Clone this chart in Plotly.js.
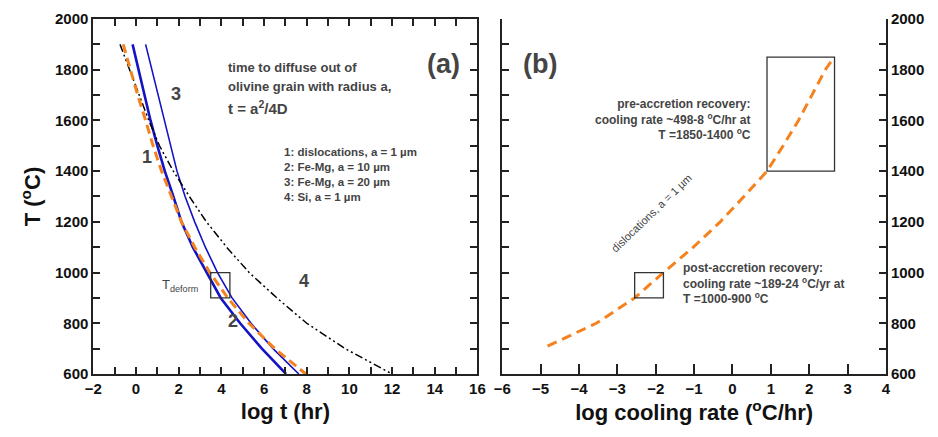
<!DOCTYPE html>
<html>
<head>
<meta charset="utf-8">
<script src="https://cdn.plot.ly/plotly-3.0.1.min.js"></script>
<style>html,body{margin:0;padding:0;background:#fff;}#chart{width:938px;height:437px;}</style>
</head>
<body>
<div id="chart"></div>
<script>
// Panel (a): temperature (°C) vs log t (hr)
const tempA = [1900, 1800, 1700, 1600, 1500, 1400, 1300, 1200, 1100, 1000, 900, 800, 700, 600];
const logT_dislocations = [-0.6, -0.27, 0.08, 0.45, 0.8, 1.2, 1.65, 2.13, 2.75, 3.46, 4.3, 5.29, 6.5, 7.96];
const logT_FeMg10 = [-0.16, 0.12, 0.4, 0.68, 1.0, 1.35, 1.75, 2.13, 2.66, 3.3, 3.97, 4.88, 5.9, 7.03];
const logT_FeMg20 = [0.45, 0.75, 1.05, 1.35, 1.62, 1.92, 2.3, 2.75, 3.25, 3.82, 4.5, 5.39, 6.42, 7.63];
const logT_Si = [-0.75, -0.3, 0.15, 0.6, 1.1, 1.75, 2.5, 3.3, 4.25, 5.3, 6.6, 8.0, 9.8, 12.0];

// Panel (b): temperature (°C) vs log cooling rate (°C/hr)
const tempB = [710, 800, 900, 1000, 1100, 1200, 1300, 1400, 1500, 1600, 1700, 1800, 1850];
const logRate_dislocations = [-4.82, -3.55, -2.55, -1.8, -1.02, -0.32, 0.3, 0.9, 1.32, 1.72, 2.07, 2.42, 2.65];

// Highlight ranges
const deformLogT = [3.5, 4.4], deformT = [900, 1000];
const preRate = [0.9, 2.66], preT = [1400, 1850];
const postRate = [-2.55, -1.8], postT = [900, 1000];

const blue = '#1414c4', orange = '#f5821f', axc = '#222';
const F = 'Liberation Sans, Arial, sans-serif';

const traces = [
  {x: logT_FeMg10, y: tempA, xaxis: 'x', yaxis: 'y', mode: 'lines', line: {color: blue, width: 2.6}},
  {x: logT_FeMg20, y: tempA, xaxis: 'x', yaxis: 'y', mode: 'lines', line: {color: blue, width: 1.6}},
  {x: logT_Si, y: tempA, xaxis: 'x', yaxis: 'y', mode: 'lines', line: {color: '#000', width: 1.5, dash: '8px,3px,2px,3px,2px,3px'}},
  {x: logT_dislocations, y: tempA, xaxis: 'x', yaxis: 'y', mode: 'lines', line: {color: orange, width: 3, dash: '9px,5px'}},
  {x: logRate_dislocations, y: tempB, xaxis: 'x2', yaxis: 'y2', mode: 'lines', line: {color: orange, width: 3, dash: '10px,6px'}}
];

function rect(xr, yr, xa, ya) {
  return {type: 'rect', xref: xa, yref: ya, x0: xr[0], x1: xr[1], y0: yr[0], y1: yr[1], line: {color: '#333', width: 1.3}};
}

function tf() { return {family: F, size: 15, color: '#111', weight: 'bold'}; }
function axis(extra) {
  const a = {showgrid: false, zeroline: false, showline: true, linecolor: axc, linewidth: 2,
    ticks: 'inside', ticklen: 7, tickwidth: 1.5, tickcolor: axc, tickfont: tf(), mirror: 'ticks'};
  for (const k in extra) a[k] = extra[k];
  return a;
}
function ttl(t) { return {text: t, font: {family: F, size: 22, weight: 'bold', color: '#111'}, standoff: 8}; }

const layout = {
  width: 938, height: 437, margin: {l: 0, r: 0, t: 0, b: 0},
  paper_bgcolor: '#fff', plot_bgcolor: '#fff', showlegend: false,
  xaxis: axis({domain: [0.0995, 0.509], range: [-2, 16], dtick: 2, tick0: 0,
    minor: {dtick: 1, ticks: 'inside', ticklen: 7, tickwidth: 1.5, tickcolor: axc},
    title: ttl('log t (hr)'), anchor: 'y'}),
  yaxis: axis({domain: [0.1442, 0.9565], range: [600, 2000], dtick: 200, tick0: 0,
    minor: {dtick: 100, ticks: 'inside', ticklen: 7, tickwidth: 1.5, tickcolor: axc},
    title: ttl('T (<sup>o</sup>C)'), anchor: 'x'}),
  xaxis2: axis({domain: [0.5355, 0.9445], range: [-6, 4], dtick: 1, tick0: 0, mirror: false, ticklen: 10,
    title: ttl('log cooling rate (<sup>o</sup>C/hr)'), anchor: 'y2'}),
  xaxis3: axis({domain: [0.5355, 0.9445], range: [-6, 4], dtick: 1, tick0: 0, overlaying: 'x2',
    side: 'top', showticklabels: false, mirror: false, anchor: 'y2'}),
  yaxis2: axis({domain: [0.1442, 0.9565], range: [600, 2000], dtick: 200, tick0: 0, side: 'right',
    minor: {dtick: 100, ticks: 'inside', ticklen: 7, tickwidth: 1.5, tickcolor: axc}, anchor: 'x2'}),
  shapes: [rect(deformLogT, deformT, 'x', 'y'), rect(preRate, preT, 'x2', 'y2'), rect(postRate, postT, 'x2', 'y2')],
  annotations: [
    {xref: 'paper', yref: 'paper', x: 443/938, y: 1-47/437, text: '(a)', showarrow: false, font: {family: F, size: 27, weight: 'bold'}},
    {xref: 'paper', yref: 'paper', x: 540/938, y: 1-47/437, text: '(b)', showarrow: false, font: {family: F, size: 27, weight: 'bold'}},
    {xref: 'paper', yref: 'paper', x: 226/938, y: 1-58/437, xanchor: 'left', text: 'time to diffuse out of', showarrow: false, font: {family: F, size: 13, weight: 'bold'}},
    {xref: 'paper', yref: 'paper', x: 226/938, y: 1-77/437, xanchor: 'left', text: 'olivine grain with radius a,', showarrow: false, font: {family: F, size: 13, weight: 'bold'}},
    {xref: 'paper', yref: 'paper', x: 226/938, y: 1-96/437, xanchor: 'left', text: 't = a<sup>2</sup>/4D', showarrow: false, font: {family: F, size: 15, weight: 'bold'}},
    {xref: 'paper', yref: 'paper', x: 282/938, y: 1-152/437, xanchor: 'left', text: '1: dislocations, a = 1 µm', showarrow: false, font: {family: F, size: 11.5, weight: 'bold'}},
    {xref: 'paper', yref: 'paper', x: 282/938, y: 1-167/437, xanchor: 'left', text: '2: Fe-Mg, a = 10 µm', showarrow: false, font: {family: F, size: 11.5, weight: 'bold'}},
    {xref: 'paper', yref: 'paper', x: 282/938, y: 1-182/437, xanchor: 'left', text: '3: Fe-Mg, a = 20 µm', showarrow: false, font: {family: F, size: 11.5, weight: 'bold'}},
    {xref: 'paper', yref: 'paper', x: 282/938, y: 1-197/437, xanchor: 'left', text: '4: Si, a = 1 µm', showarrow: false, font: {family: F, size: 11.5, weight: 'bold'}},
    {xref: 'paper', yref: 'paper', x: 169/938, y: 1-82/437, text: '3', showarrow: false, font: {family: F, size: 18, weight: 'bold'}},
    {xref: 'paper', yref: 'paper', x: 140/938, y: 1-157/437, text: '1', showarrow: false, font: {family: F, size: 18, weight: 'bold'}},
    {xref: 'paper', yref: 'paper', x: 226/938, y: 1-333/437, text: '2', showarrow: false, font: {family: F, size: 18, weight: 'bold'}},
    {xref: 'paper', yref: 'paper', x: 297/938, y: 1-293/437, text: '4', showarrow: false, font: {family: F, size: 18, weight: 'bold'}},
    {xref: 'paper', yref: 'paper', x: 200/938, y: 1-285/437, xanchor: 'right', text: 'T<sub>deform</sub>', showarrow: false, font: {family: F, size: 13}},
    {xref: 'paper', yref: 'paper', x: 753/938, y: 1-95/437, xanchor: 'right', align: 'right',
      text: 'pre-accretion recovery:<br>cooling rate ~498-8 <sup>o</sup>C/hr at<br>T =1850-1400 <sup>o</sup>C', showarrow: false, font: {family: F, size: 12, weight: 'bold'}},
    {xref: 'paper', yref: 'paper', x: 681/938, y: 1-308/437, xanchor: 'left', align: 'left',
      text: 'post-accretion recovery:<br>cooling rate ~189-24 <sup>o</sup>C/yr at<br>T =1000-900 <sup>o</sup>C', showarrow: false, font: {family: F, size: 12, weight: 'bold'}},
    {xref: 'paper', yref: 'paper', x: 697/938, y: 1-213/437, text: 'dislocations, a = 1 µm', textangle: -44, showarrow: false, font: {family: F, size: 11}}
  ]
};

// per-decade minor ticks on the cooling-rate axis: one linear overlay axis per digit 2..9
const minorDigits = [2, 3, 4, 5, 6, 7, 8, 9];
minorDigits.forEach(function(d, i) {
  layout['xaxis' + (4 + i)] = axis({domain: [0.5355, 0.9445], range: [-6, 4], dtick: 1, tick0: Math.log10(d),
    overlaying: 'x2', side: 'bottom', anchor: 'y2', showticklabels: false, showline: false, mirror: false,
    ticklen: 5, tickwidth: 1.2});
});

Plotly.newPlot('chart', traces, layout, {displayModeBar: false});
</script>
</body>
</html>
